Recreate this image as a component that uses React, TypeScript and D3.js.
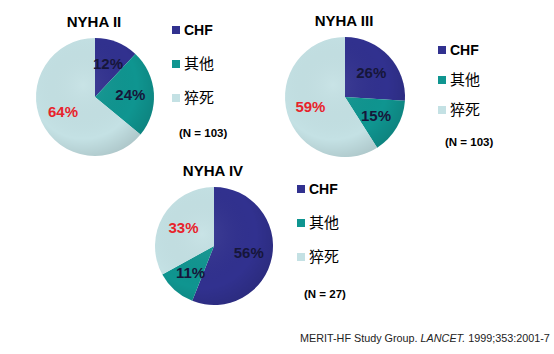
import { useRef, useEffect } from "react";
import * as d3 from "d3";

const categories = ["CHF", "其他", "猝死"];
const colors = ["#31318f", "#0f9590", "#c4e1e4"];
const panelTitles = ["NYHA II", "NYHA III", "NYHA IV"];
const panelN = ["(N = 103)", "(N = 103)", "(N = 27)"];
const nyhaII = [12, 24, 64];
const nyhaIII = [26, 15, 59];
const nyhaIV = [56, 11, 33];
const seriesValues = [nyhaII, nyhaIII, nyhaIV];

// layout of the three panels (pie centre, legend origin)
const panels = [
  { cx: 95, cy: 97, r: 59, lx: 172, ly: 30, gap: 34, ny: 133 },
  { cx: 345, cy: 97, r: 60, lx: 438, ly: 50, gap: 30, ny: 142 },
  { cx: 214, cy: 246, r: 59, lx: 297, ly: 189, gap: 34, ny: 294 },
];

const width = 554;
const height = 354;

export default function App() {
  const svgRef = useRef<SVGSVGElement>(null);

  useEffect(() => {
    if (!svgRef.current) return;
    const svg = d3.select(svgRef.current);
    svg.selectAll("*").remove();

    svg.append("rect").attr("width", width).attr("height", height).attr("fill", "#fff");

    const defs = svg.append("defs");
    const shade = defs
      .append("radialGradient")
      .attr("id", "shade")
      .attr("cx", "40%")
      .attr("cy", "40%")
      .attr("r", "65%");
    shade.append("stop").attr("offset", "0%").attr("stop-color", "#fff").attr("stop-opacity", 0.08);
    shade.append("stop").attr("offset", "70%").attr("stop-color", "#000").attr("stop-opacity", 0.0);
    shade.append("stop").attr("offset", "100%").attr("stop-color", "#000").attr("stop-opacity", 0.12);

    const pie = d3.pie<number>().sort(null).value((d) => d);
    const font = "Liberation Sans, Arial, sans-serif";
    const cjk = "Noto Sans CJK SC, sans-serif";

    panels.forEach((p, pi) => {
      const values = seriesValues[pi];
      const arcs = pie(values);
      const arc = d3.arc<d3.PieArcDatum<number>>().innerRadius(0).outerRadius(p.r);
      const labelArc = d3
        .arc<d3.PieArcDatum<number>>()
        .innerRadius(p.r * 0.6)
        .outerRadius(p.r * 0.6);

      const g = svg.append("g").attr("transform", `translate(${p.cx},${p.cy})`);

      g.selectAll("path.slice")
        .data(arcs)
        .enter()
        .append("path")
        .attr("class", "slice")
        .attr("d", arc)
        .attr("fill", (_, i) => colors[i]);

      g.append("circle").attr("r", p.r).attr("fill", "url(#shade)");

      g.selectAll("text.pct")
        .data(arcs)
        .enter()
        .append("text")
        .attr("class", "pct")
        .attr("transform", (d) => `translate(${labelArc.centroid(d)})`)
        .attr("text-anchor", "middle")
        .attr("dy", "0.35em")
        .attr("font-family", font)
        .attr("font-weight", "bold")
        .attr("font-size", 15)
        .attr("fill", (_, i) => (i === 2 ? "#e8232b" : "#16163a"))
        .text((d) => `${d.data}%`);

      svg
        .append("text")
        .attr("x", p.cx - 1)
        .attr("y", p.cy - p.r - 11)
        .attr("text-anchor", "middle")
        .attr("font-family", font)
        .attr("font-weight", "bold")
        .attr("font-size", 15)
        .attr("fill", "#000")
        .text(panelTitles[pi]);

      const lg = svg.append("g").attr("transform", `translate(${p.lx},${p.ly})`);
      categories.forEach((c, i) => {
        const y = i * p.gap;
        lg.append("rect")
          .attr("x", 0)
          .attr("y", y - 4)
          .attr("width", 8)
          .attr("height", 8)
          .attr("fill", colors[i]);
        lg.append("text")
          .attr("x", i === 0 ? 12 : 12)
          .attr("y", y)
          .attr("dy", "0.36em")
          .attr("font-family", i === 0 ? font : cjk)
          .attr("font-weight", i === 0 ? "bold" : "normal")
          .attr("font-size", i === 0 ? 14 : 15)
          .attr("fill", "#000")
          .text(c);
      });

      svg
        .append("text")
        .attr("x", p.lx + 7)
        .attr("y", p.ny)
        .attr("dy", "0.35em")
        .attr("font-family", font)
        .attr("font-weight", "bold")
        .attr("font-size", 11.5)
        .attr("fill", "#000")
        .text(panelN[pi]);
    });

    const foot = svg
      .append("text")
      .attr("x", 300)
      .attr("y", 342)
      .attr("font-family", font)
      .attr("font-size", 10.8)
      .attr("fill", "#222");
    foot.append("tspan").text("MERIT-HF Study Group. ");
    foot.append("tspan").attr("font-style", "italic").text("LANCET.");
    foot.append("tspan").text(" 1999;353:2001-7");
  }, []);

  return (
    <svg
      ref={svgRef}
      width={width}
      height={height}
      style={{ position: "absolute", left: 0, top: 0, display: "block" }}
    />
  );
}
